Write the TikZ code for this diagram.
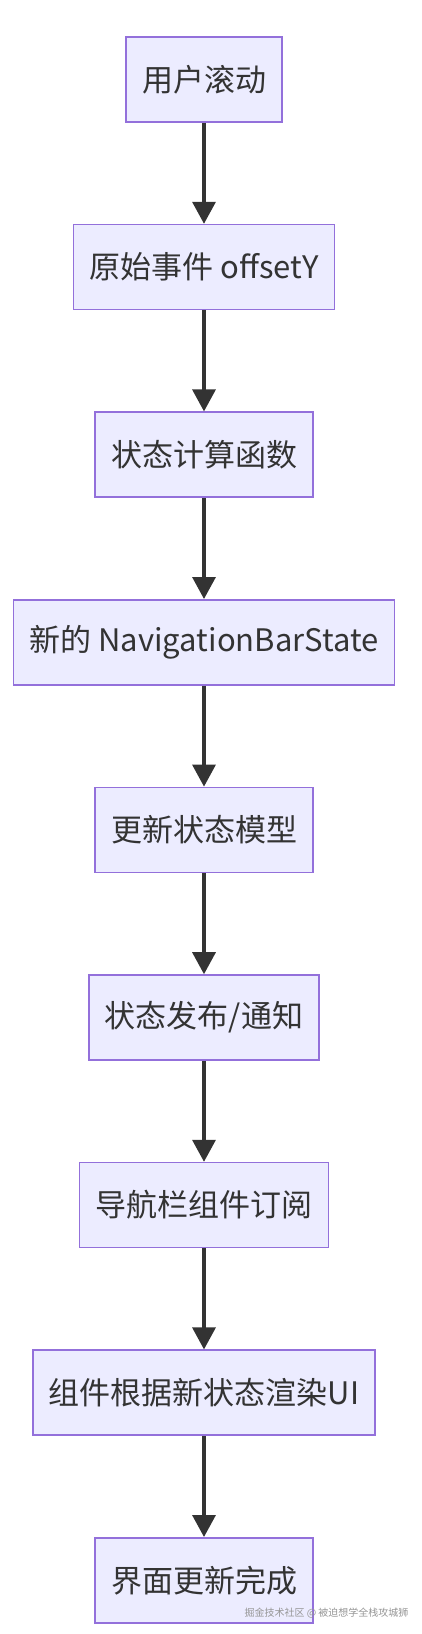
\documentclass[tikz,border=0pt]{standalone}
\usepackage{fontspec}
\setmainfont{Noto Sans CJK SC}
\usepackage{tikz}
\usetikzlibrary{arrows.meta,positioning}
\definecolor{FlowFill}{RGB}{236,236,255}
\definecolor{FlowEdge}{RGB}{147,112,219}
\definecolor{InkGray}{RGB}{51,51,51}
\definecolor{MarkGray}{RGB}{150,150,150}

\begin{document}
\begin{tikzpicture}[x=1pt,y=1pt,
    flowbox/.style={draw=FlowEdge,line width=1.6pt,fill=FlowFill,
      text=InkGray,font=\fontsize{31}{36}\selectfont,
      minimum height=85pt,inner xsep=16pt},
    flowarrow/.style={-{Triangle[width=23pt,length=22pt]},
      line width=3.3pt,InkGray},
    node distance=101pt]
  \useasboundingbox (0,0) rectangle (422,-1634);
  % nine steps, top to bottom
  \node[flowbox] (scroll) at (204,-79.5) {用户滚动};
  \node[flowbox,below=of scroll] (rawevt) {原始事件 offsetY};
  \node[flowbox,below=of rawevt] (calc) {状态计算函数};
  \node[flowbox,below=of calc] (newstate) {新的 NavigationBarState};
  \node[flowbox,below=of newstate] (model) {更新状态模型};
  \node[flowbox,below=of model] (publish) {状态发布/通知};
  \node[flowbox,below=of publish] (subscr) {导航栏组件订阅};
  \node[flowbox,below=of subscr] (render) {组件根据新状态渲染UI};
  \node[flowbox,below=of render] (done) {界面更新完成};
  % connectors
  \draw[flowarrow] (scroll) -- (rawevt);
  \draw[flowarrow] (rawevt) -- (calc);
  \draw[flowarrow] (calc) -- (newstate);
  \draw[flowarrow] (newstate) -- (model);
  \draw[flowarrow] (model) -- (publish);
  \draw[flowarrow] (publish) -- (subscr);
  \draw[flowarrow] (subscr) -- (render);
  \draw[flowarrow] (render) -- (done);
  % watermark
  \node[anchor=east,text=MarkGray,font=\fontsize{10}{12}\selectfont]
    (mark) at (412,-1613) {掘金技术社区 @ 被迫想学全栈攻城狮};
\end{tikzpicture}
\end{document}
